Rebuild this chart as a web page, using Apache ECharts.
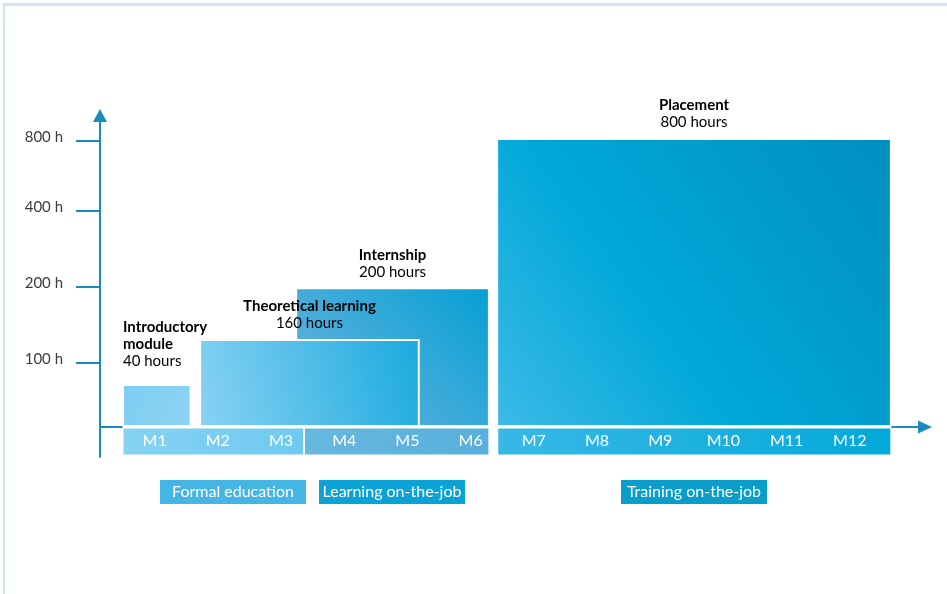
<!DOCTYPE html>
<html>
<head>
<meta charset="utf-8">
<script src="https://cdn.jsdelivr.net/npm/echarts@6/dist/echarts.min.js"></script>
<style>
html,body{margin:0;padding:0;background:#fff;}
#main{width:947px;height:594px;}
</style>
</head>
<body>
<div id="main"></div>
<script>
// months on the x axis
var months = ['M1','M2','M3','M4','M5','M6','M7','M8','M9','M10','M11','M12'];

// y axis ticks (the drawing is not to scale, so ticks sit on a "level" scale)
var yTickLabels = ['100 h','200 h','400 h','800 h'];
var yTickLevels = [0.88, 1.92, 2.96, 3.92];

// modules: name, hours, span in months, drawn height (level scale)
var blockNames = ['Introductory\nmodule','Theoretical learning','Internship','Placement'];
var blockHours = [40, 160, 200, 800];
var blockStart = [0, 1.22, 2.74, 5.92];
var blockEnd = [1.07, 4.68, 5.79, 12.15];
var blockTop = [0.575, 1.19, 1.9, 3.945];

// phases under the axis
var phaseNames = ['Formal education','Learning on-the-job','Training on-the-job'];
var phaseStart = [0, 2.87, 5.93];
var phaseEnd = [2.86, 5.79, 12.15];

var axisColor = '#1a8bbf';
var textColor = '#3c3c3c';
var font = 'Lato, "Open Sans", sans-serif';

var LG = echarts.graphic.LinearGradient;
var blockFill = [
	new LG(0,0,1,1,[{offset:0,color:'#7dcdf1'},{offset:1,color:'#8dd4f3'}]),
	new LG(0,1,1,0.3,[{offset:0,color:'#8ad2f3'},{offset:1,color:'#1eabdf'}]),
	new LG(1,0,0.3,1,[{offset:0,color:'#05a0d4'},{offset:1,color:'#60b1dc'}]),
	new LG(1,0,0,1,[{offset:0,color:'#008fc0'},{offset:0.6,color:'#00a8d8'},{offset:1,color:'#3dbae8'}])
];
var stripFill = [
	new LG(0,0,1,1,[{offset:0,color:'#86d3f3'},{offset:1,color:'#6fc9ef'}]),
	new LG(0,0,1,1,[{offset:0,color:'#66b8de'},{offset:1,color:'#58afdb'}]),
	new LG(0,1,1,0,[{offset:0,color:'#38b9e7'},{offset:1,color:'#03a9d9'}])
];
var phaseColor = ['#45b6e4','#0ba3d6','#0a9dca'];

var blockData = [];
for (var i = 0; i < blockNames.length; i++) {
	blockData.push([blockStart[i], blockEnd[i], blockTop[i], i]);
}
var phaseData = [];
for (var j = 0; j < phaseNames.length; j++) {
	phaseData.push([phaseStart[j], phaseEnd[j], 0, j]);
}

function renderBlock(params, api) {
	var i = params.dataIndex;
	var tl = api.coord([api.value(0), api.value(2)]);
	var br = api.coord([api.value(1), 0]);
	var lines = blockNames[i].split('\n');
	var txt = '';
	for (var k = 0; k < lines.length; k++) txt += '{b|' + lines[k] + '}\n';
	txt += '{n|' + blockHours[i] + ' hours}';
	var left = i === 0;
	var gap = left ? 15 : 8;
	return {
		type: 'group',
		children: [{
			type: 'rect',
			z2: i === 2 ? 1 : 2,
			shape: {x: tl[0], y: tl[1], width: br[0] - tl[0], height: br[1] - tl[1] - 1},
			style: {fill: blockFill[i], stroke: '#fff', lineWidth: 2}
		}, {
			type: 'text',
			z2: 5,
			x: left ? tl[0] : (tl[0] + br[0]) / 2,
			y: tl[1] - gap,
			style: {
				text: txt,
				align: left ? 'left' : 'center',
				verticalAlign: 'bottom',
				rich: {
					b: {fontFamily: font, fontSize: 15, fontWeight: 'bold', color: textColor, lineHeight: 17},
					n: {fontFamily: font, fontSize: 15, color: textColor, lineHeight: 17}
				}
			}
		}]
	};
}

function renderPhase(params, api) {
	var i = params.dataIndex;
	var a = api.coord([api.value(0), 0]);
	var b = api.coord([api.value(1), 0]);
	var next = i < phaseStart.length - 1 ? phaseStart[i + 1] : api.value(1);
	var c = api.coord([next, 0]);
	return {
		type: 'group',
		children: [{
			type: 'rect',
			shape: {x: a[0], y: a[1] - 2, width: c[0] - a[0], height: 4},
			style: {fill: '#fff'}
		}, {
			type: 'rect',
			shape: {x: a[0], y: a[1] + 1, width: b[0] - a[0], height: 27},
			style: {fill: stripFill[i], stroke: '#fff', lineWidth: 1}
		}]
	};
}

// legend boxes under the chart
var boxLeft = [160, 319, 621];
var graphics = [
	{type: 'line', shape: {x1: 3, y1: 4.5, x2: 947, y2: 4.5}, style: {stroke: '#cfe6f2', lineWidth: 3}},
	{type: 'line', shape: {x1: 4, y1: 3, x2: 4, y2: 594}, style: {stroke: '#cfe6f2', lineWidth: 2}}
];
for (var p = 0; p < phaseNames.length; p++) {
	graphics.push({
		type: 'group', left: boxLeft[p], top: 480,
		children: [
			{type: 'rect', shape: {x: 0, y: 0, width: 146, height: 24}, style: {fill: phaseColor[p]}},
			{type: 'text', x: 73, y: 12, style: {text: phaseNames[p], align: 'center', verticalAlign: 'middle', fill: '#fff', font: '16px ' + font}}
		]
	});
}

var myChart = echarts.init(document.getElementById('main'));
var option = {
	animation: false,
	backgroundColor: '#fff',
	grid: {left: 100, right: 22, top: 115.5, bottom: 137},
	xAxis: [{
		type: 'value', min: -0.364, max: 12.69,
		axisLine: {onZero: true, symbol: ['none','triangle'], symbolSize: [13, 14], lineStyle: {color: axisColor, width: 2}},
		axisTick: {show: false}, axisLabel: {show: false}, splitLine: {show: false}
	}, {
		// month labels, drawn inside the strip
		type: 'value', min: -0.364, max: 12.69, position: 'bottom', offset: -30, z: 10,
		axisLine: {show: false, onZero: false},
		axisTick: {show: false}, splitLine: {show: false},
		axisLabel: {
			customValues: months.map(function(m, k){ return k + 0.5; }),
			formatter: function(v){ return months[Math.round(v - 0.5)] || ''; },
			color: '#fff', fontFamily: font, fontSize: 16, margin: 6
		}
	}],
	yAxis: {
		type: 'value', min: -0.411, max: 4.267,
		axisLine: {show: true, onZero: false, symbol: ['none','triangle'], symbolSize: [14, 13], lineStyle: {color: axisColor, width: 2}},
		axisTick: {show: true, customValues: yTickLevels, length: 24, lineStyle: {color: axisColor, width: 2}},
		axisLabel: {
			customValues: yTickLevels,
			formatter: function(v){ return yTickLabels[yTickLevels.indexOf(v)] || ''; },
			color: textColor, fontFamily: font, fontSize: 15, margin: 37,
			verticalAlign: 'bottom', lineHeight: 8
		},
		splitLine: {show: false}
	},
	graphic: graphics,
	series: [{
		type: 'custom',
		renderItem: renderPhase,
		encode: {x: [0, 1], y: 2},
		data: phaseData
	}, {
		type: 'custom',
		renderItem: renderBlock,
		encode: {x: [0, 1], y: 2},
		data: blockData
	}]
};
myChart.setOption(option);
</script>
</body>
</html>
